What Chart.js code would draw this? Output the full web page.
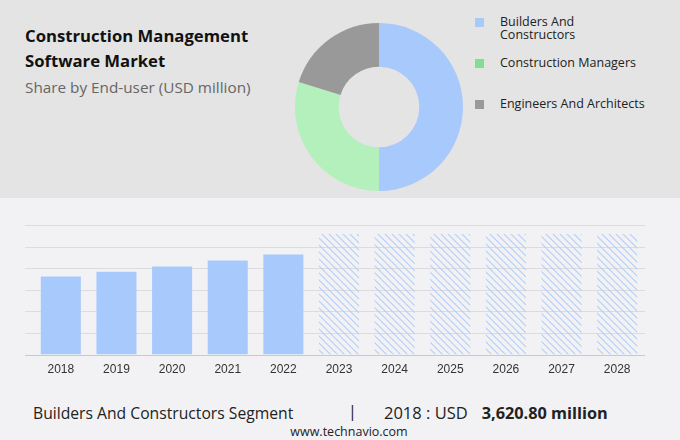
<!DOCTYPE html>
<html>
<head>
<meta charset="utf-8">
<script src="https://cdn.jsdelivr.net/npm/chart.js@4.4.0/dist/chart.umd.min.js"></script>
<style>
  html, body { margin: 0; padding: 0; }
  body { width: 680px; height: 440px; background: #f2f2f4; position: relative; overflow: hidden; font-family: 'Open Sans', sans-serif; color: #222; }
  .top { position: absolute; left: 0; top: 0; width: 680px; height: 198px; background: #e4e4e4; }
  .title { position: absolute; left: 25px; top: 23px; font-size: 16.7px; font-weight: 700; line-height: 25px; color: #111; }
  .subtitle { position: absolute; left: 25px; top: 77px; font-size: 15.3px; font-weight: 400; color: #666; }
  #donut-wrap { position: absolute; left: 293px; top: 21px; width: 172px; height: 172px; }
  .legend { position: absolute; left: 475px; top: 0; }
  .legend .mark { position: absolute; left: 0; width: 9px; height: 9px; }
  .legend .txt { position: absolute; left: 25px; font-size: 12.5px; line-height: 13px; color: #222; white-space: nowrap; }
  #bar-wrap { position: absolute; left: 0; top: 213px; width: 680px; height: 164px; }
  .footer { position: absolute; left: 33px; top: 402px; font-size: 15.7px; color: #222; white-space: nowrap; }
  .sep { position: absolute; left: 348px; top: 400px; font-size: 16px; color: #222; }
  .value { position: absolute; left: 384px; top: 401px; font-size: 16.5px; color: #222; white-space: nowrap; }
  .value b { font-size: 16.3px; margin-left: 14px; }
  .site { position: absolute; left: 0; width: 698px; text-align: center; top: 423px; font-size: 12.5px; color: #222; }
</style>
</head>
<body>
<div class="top"></div>
<div class="title">Construction Management<br>Software Market</div>
<div class="subtitle">Share by End-user (USD million)</div>
<div id="donut-wrap"><canvas id="donut"></canvas></div>
<div class="legend" id="legend"></div>
<div id="bar-wrap"><canvas id="bars"></canvas></div>
<div class="footer">Builders And Constructors Segment</div>
<div class="sep">|</div>
<div class="value">2018 : USD<b>3,620.80 million</b></div>
<div class="site">www.technavio.com</div>
<script>
const segments = ['Builders And Constructors', 'Construction Managers', 'Engineers And Architects'];
const segmentLines = [['Builders And', 'Constructors'], ['Construction Managers'], ['Engineers And Architects']];
const segmentShares = [50.0, 29.8, 20.2];
const segmentColors = ['#a8c9fb', '#b4f0bb', '#999999'];
const legendColors = ['#a9c9fb', '#7fe094', '#999999'];
const legendTops = [22, 63, 104];

const years = ['2018', '2019', '2020', '2021', '2022', '2023', '2024', '2025', '2026', '2027', '2028'];
const historical = [3620.8, 3840, 4080, 4360, 4640, null, null, null, null, null, null];
const forecast = [null, null, null, null, null, 5580, 5580, 5580, 5580, 5580, 5580];
const yTicks = [0, 1000, 2000, 3000, 4000, 5000, 6000];

const renderLegend = () => {
  const el = document.getElementById('legend');
  el.innerHTML = segments.map((name, idx) => {
    const lines = segmentLines[idx];
    const c = legendTops[idx];
    return `<div class="mark" style="top:${c - 4.5}px;background:${legendColors[idx]}"></div>`
      + `<div class="txt" style="top:${c - 7.5}px">${lines.join('<br>')}</div>`;
  }).join('');
};

const makeHatch = () => {
  const c = document.createElement('canvas');
  c.width = 7; c.height = 7;
  const g = c.getContext('2d');
  g.strokeStyle = '#b3cdf6';
  g.lineWidth = 1.1;
  g.beginPath();
  g.moveTo(-1, -1); g.lineTo(8, 8);
  g.moveTo(-1, 6); g.lineTo(1, 8);
  g.moveTo(6, -1); g.lineTo(8, 1);
  g.stroke();
  return g.createPattern(c, 'repeat');
};

const gridLeft = {
  id: 'gridLeft',
  beforeDatasetsDraw(chart) {
    const { ctx, chartArea } = chart;
    const y = chart.scales.y;
    ctx.save();
    ctx.lineWidth = 1;
    yTicks.forEach((v) => {
      const py = Math.round(y.getPixelForValue(v)) + 0.5;
      ctx.strokeStyle = v === 0 ? '#c9c9cb' : '#dcdcde';
      ctx.beginPath();
      ctx.moveTo(chartArea.left - 8, py);
      ctx.lineTo(chartArea.right, py);
      ctx.stroke();
    });
    ctx.restore();
  },
};

const drawDonut = () => {
  new Chart(document.getElementById('donut'), {
    type: 'doughnut',
    data: {
      labels: segments,
      datasets: [{ data: segmentShares, backgroundColor: segmentColors, borderWidth: 0 }],
    },
    options: {
      responsive: true,
      maintainAspectRatio: false,
      animation: false,
      cutout: '48%',
      layout: { padding: 2 },
      plugins: { legend: { display: false }, tooltip: { enabled: false } },
    },
  });
};

const drawBars = () => {
  new Chart(document.getElementById('bars'), {
    type: 'bar',
    data: {
      labels: years,
      datasets: [
        { data: historical, backgroundColor: '#a8c9fb', barPercentage: 0.72, categoryPercentage: 1 },
        { data: forecast, backgroundColor: makeHatch(), barPercentage: 0.72, categoryPercentage: 1 },
      ],
    },
    options: {
      responsive: true,
      maintainAspectRatio: false,
      animation: false,
      layout: { padding: { left: 33, right: 35, top: 12, bottom: 0 } },
      scales: {
        x: {
          stacked: true,
          grid: { display: false },
          border: { display: false },
          ticks: { color: '#333', font: { family: 'Liberation Sans', size: 12 }, padding: 0 },
        },
        y: {
          stacked: true,
          display: false,
          min: 0,
          max: 6000,
        },
      },
      plugins: { legend: { display: false }, tooltip: { enabled: false } },
    },
    plugins: [gridLeft],
  });
};

renderLegend();
drawDonut();
drawBars();
</script>
</body>
</html>
